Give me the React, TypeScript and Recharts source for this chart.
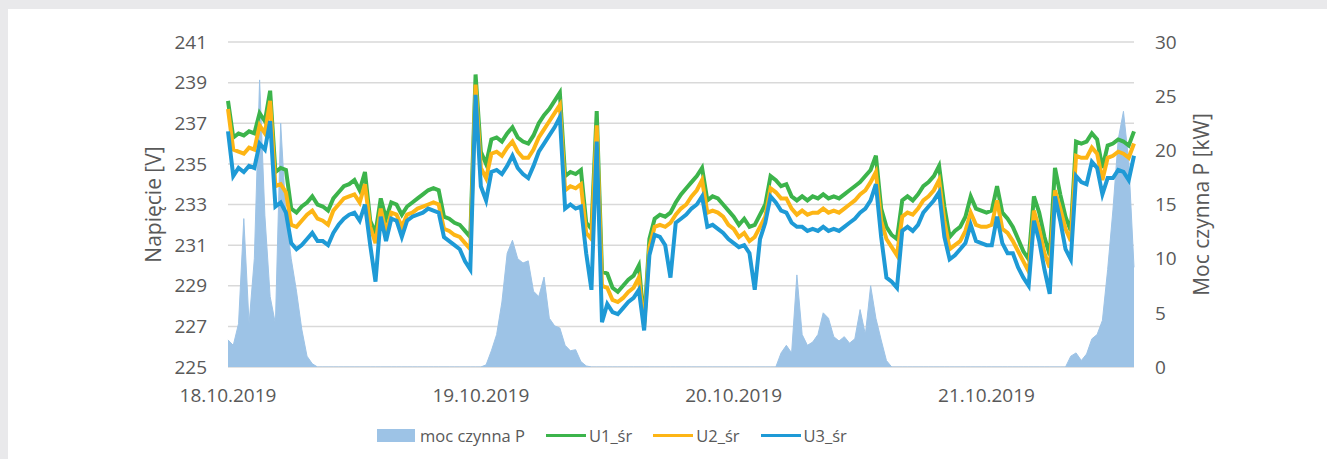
import React from 'react';
import { ComposedChart, Area, Line, XAxis, YAxis, CartesianGrid, Legend } from 'recharts';

const dayLabels = ['18.10.2019', '19.10.2019', '20.10.2019', '21.10.2019'];
const dayTickIndex = [0, 48, 96, 144];
const voltTicks = [225, 227, 229, 231, 233, 235, 237, 239, 241];
const powerTicks = [0, 5, 10, 15, 20, 25, 30];

const u1 = [
  238.1, 236.3, 236.5, 236.4, 236.6, 236.5, 237.5, 237.1, 238.6, 234.6,
  234.8, 234.7, 232.8, 232.6, 232.9, 233.1, 233.4, 233.0, 232.9, 232.7,
  233.3, 233.6, 233.9, 234.0, 234.2, 233.7, 234.6, 232.2, 231.6, 233.3,
  232.3, 233.1, 233.0, 232.5, 232.9, 233.1, 233.3, 233.5, 233.7, 233.8,
  233.7, 232.4, 232.3, 232.1, 232.0, 231.7, 231.4, 239.4, 235.6, 235.0,
  236.2, 236.3, 236.1, 236.5, 236.8, 236.3, 236.1, 236.0, 236.4, 237.0,
  237.4, 237.7, 238.1, 238.5, 234.4, 234.6, 234.5, 234.7, 232.1, 231.8,
  237.6, 229.7, 229.6, 228.9, 228.7, 229.0, 229.3, 229.5, 230.0, 227.2,
  231.3, 232.3, 232.5, 232.4, 232.6, 233.1, 233.5, 233.8, 234.1, 234.4,
  234.8, 233.2, 233.4, 233.3, 233.0, 232.7, 232.4, 232.0, 232.3, 231.9,
  232.0, 232.5, 233.0, 234.4, 234.2, 233.9, 234.0, 233.4, 233.2, 233.4,
  233.2, 233.4, 233.3, 233.5, 233.3, 233.4, 233.3, 233.5, 233.7, 233.9,
  234.1, 234.4, 234.7, 235.4, 232.8, 231.9, 231.5, 231.3, 233.2, 233.4,
  233.2, 233.5, 233.9, 234.1, 234.4, 234.9, 232.9, 231.4, 231.7, 231.9,
  232.4, 233.4, 232.8, 232.7, 232.6, 232.7, 233.9, 232.6, 232.3, 231.9,
  231.3, 230.7, 230.3, 233.4, 232.6, 231.4, 230.5, 234.8, 233.5, 232.4,
  231.7, 236.1, 236.0, 236.1, 236.5, 236.2, 234.8, 235.9, 236.0, 236.2,
  236.1, 235.9, 236.6,
];

const u2 = [
  237.7, 235.7, 235.6, 235.5, 235.8, 235.7, 236.9, 236.5, 238.1, 233.9,
  234.0, 233.6, 232.0, 231.9, 232.2, 232.5, 232.7, 232.3, 232.2, 232.0,
  232.7, 233.0, 233.3, 233.4, 233.5, 233.1, 234.0, 231.9, 231.1, 232.8,
  231.6, 232.6, 232.5, 231.9, 232.5, 232.6, 232.8, 232.9, 233.0, 233.1,
  233.0, 231.8, 231.7, 231.5, 231.4, 231.1, 230.8, 238.9, 234.8, 234.3,
  235.5, 235.6, 235.4, 235.8, 236.1, 235.6, 235.3, 235.3, 235.7, 236.3,
  236.7, 237.1, 237.5, 237.9, 233.7, 233.9, 233.8, 234.0, 231.6, 231.3,
  236.9, 229.0, 228.9, 228.3, 228.2, 228.4, 228.7, 228.9, 229.4, 227.0,
  230.9, 231.9, 232.0, 231.9, 232.1, 232.5, 232.8, 233.0, 233.4, 233.7,
  234.2, 232.6, 232.7, 232.6, 232.4, 232.0, 231.8, 231.4, 231.6, 231.2,
  231.4, 231.9, 232.4, 233.8, 233.6, 233.3, 233.3, 232.8, 232.5, 232.7,
  232.5, 232.6, 232.6, 232.8, 232.6, 232.7, 232.6, 232.8, 233.0, 233.2,
  233.5, 233.7, 234.1, 234.6, 232.2, 231.3, 230.9, 230.5, 232.4, 232.6,
  232.5, 232.8, 233.2, 233.4, 233.7, 234.2, 232.2, 230.8, 231.0, 231.2,
  231.7, 232.6, 232.0, 231.9, 231.9, 232.0, 233.2, 231.8, 231.6, 231.2,
  230.7, 230.2, 229.7, 232.7, 231.8, 230.6, 229.9, 233.7, 232.8, 231.8,
  231.2, 235.4, 235.3, 235.3, 235.8, 235.5, 234.2, 235.3, 235.4, 235.6,
  235.5, 235.3, 236.0,
];

const u3 = [
  236.6, 234.4, 234.8, 234.6, 234.9, 234.8, 236.0, 235.7, 237.1, 232.9,
  233.1, 232.6, 231.1, 230.8, 231.0, 231.3, 231.6, 231.2, 231.2, 231.0,
  231.6, 232.0, 232.3, 232.5, 232.6, 232.2, 233.0, 231.0, 229.2, 232.4,
  231.2, 232.3, 232.2, 231.4, 232.2, 232.4, 232.5, 232.6, 232.8, 232.7,
  232.6, 231.4, 231.2, 231.0, 230.8, 230.2, 229.8, 238.4, 233.9, 233.2,
  234.6, 234.7, 234.5, 234.9, 235.4, 234.8, 234.5, 234.3, 234.9, 235.6,
  236.0, 236.4, 236.8, 237.3, 232.8, 233.0, 232.8, 232.9, 230.6, 228.8,
  236.1, 227.2, 228.1, 227.7, 227.6, 227.9, 228.2, 228.4, 228.8, 226.8,
  230.5, 231.5, 231.4, 231.0, 229.4, 232.1, 232.3, 232.5, 232.8, 233.0,
  233.4, 231.9, 232.0, 231.8, 231.6, 231.3, 231.1, 230.9, 231.0, 230.6,
  228.8, 231.3, 232.1, 233.4, 233.1, 232.7, 232.6, 232.1, 231.9, 231.9,
  231.7, 231.8, 231.7, 231.9, 231.7, 231.8, 231.7, 231.9, 232.1, 232.3,
  232.6, 232.8, 233.2, 234.0, 231.4, 229.4, 229.2, 228.9, 231.7, 231.9,
  231.7, 232.0, 232.6, 232.9, 233.2, 233.6, 231.4, 230.3, 230.5, 230.8,
  231.1, 232.0, 231.2, 231.1, 231.0, 231.0, 232.4, 231.1, 230.6, 230.6,
  229.9, 229.4, 229.0, 232.2, 231.2, 229.8, 228.6, 233.4, 232.2, 230.8,
  230.3, 234.4, 234.1, 234.0, 235.1, 234.8, 233.5, 234.3, 234.3, 234.7,
  234.6, 234.2, 235.4,
];

const pActive = [
  2.5, 2.0, 4.0, 13.7, 4.0, 10.0, 26.5, 14.0, 6.5, 4.0,
  22.5, 14.0, 10.0, 7.0, 3.5, 1.0, 0.3, 0, 0, 0,
  0, 0, 0, 0, 0, 0, 0, 0, 0, 0,
  0, 0, 0, 0, 0, 0, 0, 0, 0, 0,
  0, 0, 0, 0, 0, 0, 0, 0, 0, 0.2,
  1.5, 3.0, 6.0, 10.5, 11.7, 10.0, 9.6, 9.8, 7.0, 6.5,
  8.3, 4.5, 3.8, 3.6, 2.0, 1.5, 1.6, 0.5, 0.1, 0,
  0, 0, 0, 0, 0, 0, 0, 0, 0, 0,
  0, 0, 0, 0, 0, 0, 0, 0, 0, 0,
  0, 0, 0, 0, 0, 0, 0, 0, 0, 0,
  0, 0, 0, 0, 0, 1.3, 2.0, 1.3, 8.5, 3.0,
  2.0, 2.3, 3.0, 5.0, 4.5, 2.8, 2.4, 2.8, 2.2, 2.6,
  5.3, 3.0, 7.5, 4.5, 2.5, 0.6, 0, 0, 0, 0,
  0, 0, 0, 0, 0, 0, 0, 0, 0, 0,
  0, 0, 0, 0, 0, 0, 0, 0, 0, 0,
  0, 0, 0, 0, 0, 0, 0, 0, 0, 0,
  1.0, 1.3, 0.6, 1.2, 2.6, 3.0, 4.3, 9.0, 14.5, 21.0,
  23.6, 19.0, 9.2,
];

const COLORS = { p: '#9dc3e6', u1: '#3cb44b', u2: '#fdb515', u3: '#1e9ad6' };
const FONT = "'Open Sans', sans-serif";
const TEXT = '#595959';

const legendItems = [
  { key: 'p', name: 'moc czynna P', kind: 'rect' },
  { key: 'u1', name: 'U1_śr', kind: 'line' },
  { key: 'u2', name: 'U2_śr', kind: 'line' },
  { key: 'u3', name: 'U3_śr', kind: 'line' },
];

const data = u1.map((v, i) => ({ i, u1: v, u2: u2[i], u3: u3[i], p: pActive[i] }));

const renderLegend = () => (
  <div style={{ display: 'flex', alignItems: 'center', marginLeft: 377, height: 22, fontFamily: FONT, fontSize: 16.5, color: TEXT }}>
    {legendItems.map((it) => (
      <div key={it.key} style={{ display: 'flex', alignItems: 'center', marginRight: 21 }}>
        {it.kind === 'rect' ? (
          <div style={{ width: 38, height: 13, background: (COLORS as any)[it.key], marginRight: 5 }} />
        ) : (
          <div style={{ width: 40, height: 3, background: (COLORS as any)[it.key], marginRight: 3 }} />
        )}
        <span style={{ whiteSpace: 'nowrap' }}>{it.name}</span>
      </div>
    ))}
  </div>
);

const leftLabel = (props: any) => {
  const vb = props.viewBox;
  const cx = vb.x + 4.5;
  const cy = vb.y + vb.height / 2;
  return (
    <text x={cx} y={cy} transform={`rotate(-90 ${cx} ${cy})`} textAnchor="middle" dominantBaseline="central" fontSize={21} fill={TEXT} fontFamily={FONT}>
      Napięcie [V]
    </text>
  );
};

const rightLabel = (props: any) => {
  const vb = props.viewBox;
  const cx = vb.x + 67;
  const cy = vb.y + vb.height / 2;
  return (
    <text x={cx} y={cy} transform={`rotate(-90 ${cx} ${cy})`} textAnchor="middle" dominantBaseline="central" fontSize={21} fill={TEXT} fontFamily={FONT}>
      Moc czynna P [kW]
    </text>
  );
};

export default function App() {
  return (
    <div style={{ position: 'absolute', left: 0, top: 0, width: 1327, height: 459, background: '#e9e9eb', overflow: 'hidden' }}>
      <div style={{ position: 'absolute', left: 8, top: 9, width: 1319, height: 450, background: '#ffffff' }} />
      <div style={{ position: 'absolute', left: 0, top: 0 }}>
        <ComposedChart width={1327} height={459} data={data} margin={{ top: 42, right: 113, bottom: 62, left: 148 }}>
          <CartesianGrid yAxisId="left" vertical={false} stroke="#d9d9d9" strokeWidth={1.5} />
          <XAxis
            dataKey="i"
            type="number"
            domain={[0, 172]}
            ticks={dayTickIndex}
            tickFormatter={(v: number) => dayLabels[dayTickIndex.indexOf(v)]}
            axisLine={false}
            tickLine={false}
            height={30}
            tickMargin={16}
            tick={{ fontSize: 19, fill: TEXT, fontFamily: FONT }}
          />
          <YAxis
            yAxisId="left"
            domain={[225, 241]}
            ticks={voltTicks}
            axisLine={false}
            tickLine={false}
            width={80}
            tickMargin={15}
            tick={{ fontSize: 19, fill: TEXT, fontFamily: FONT }}
            label={leftLabel}
            allowDataOverflow
          />
          <YAxis
            yAxisId="right"
            orientation="right"
            domain={[0, 30]}
            ticks={powerTicks}
            axisLine={false}
            tickLine={false}
            width={80}
            tickMargin={15}
            tick={{ fontSize: 19, fill: TEXT, fontFamily: FONT, textAnchor: 'start' }}
            label={rightLabel}
            allowDataOverflow
          />
          <Legend layout="horizontal" verticalAlign="middle" align="center" wrapperStyle={{ top: 424, left: 0, width: 1327, bottom: 'auto' }} content={renderLegend} />
          <Area yAxisId="right" type="linear" dataKey="p" fill={COLORS.p} fillOpacity={1} stroke={COLORS.p} strokeWidth={1} isAnimationActive={false} />
          <Line yAxisId="left" type="linear" dataKey="u1" stroke={COLORS.u1} strokeWidth={4} dot={false} isAnimationActive={false} />
          <Line yAxisId="left" type="linear" dataKey="u2" stroke={COLORS.u2} strokeWidth={4} dot={false} isAnimationActive={false} />
          <Line yAxisId="left" type="linear" dataKey="u3" stroke={COLORS.u3} strokeWidth={4} dot={false} isAnimationActive={false} />
        </ComposedChart>
      </div>
    </div>
  );
}
